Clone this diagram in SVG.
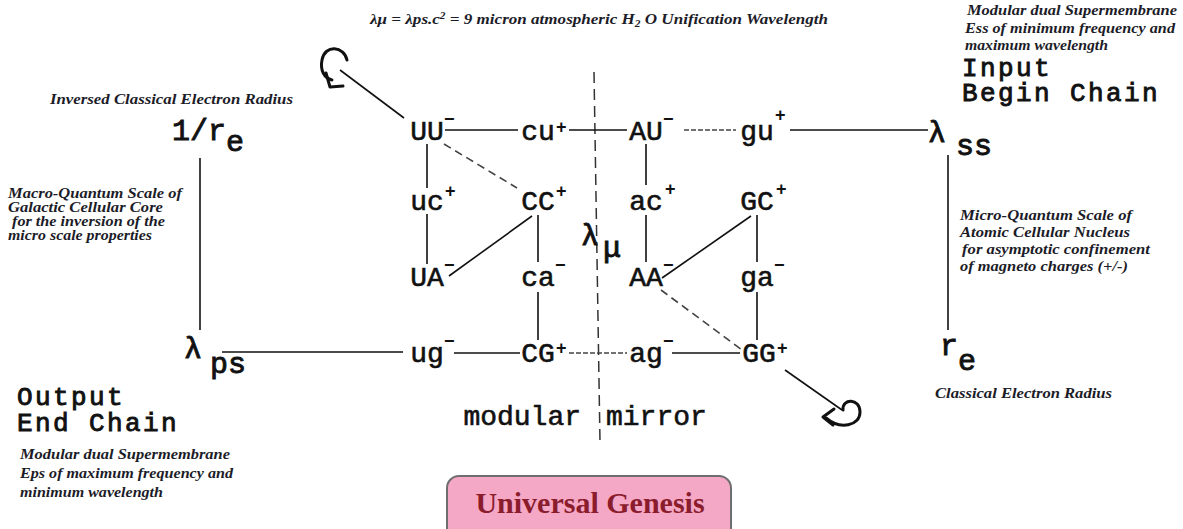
<svg xmlns="http://www.w3.org/2000/svg" width="1183" height="529" viewBox="0 0 1183 529">
<style>
.cap{font-family:"Liberation Serif",serif;font-style:italic;font-weight:bold;font-size:15px;fill:#1c1c28}
.tw{font-family:"Liberation Mono",monospace;font-size:28px;fill:#111;stroke:#111;stroke-width:0.6}
.big{font-family:"Liberation Mono",monospace;font-size:30px;fill:#111;stroke:#111;stroke-width:0.9}
.hd{font-family:"Liberation Mono",monospace;font-size:26px;letter-spacing:2.4px;fill:#111;stroke:#111;stroke-width:0.9}
.sup{font-family:"Liberation Sans",sans-serif;font-size:18px;font-weight:bold;fill:#111}
.ln{stroke:#111;stroke-width:1.6;fill:none}
.dl{stroke:#444;stroke-width:1.6;fill:none;stroke-dasharray:5 2}
.dd{stroke:#444;stroke-width:1.6;fill:none;stroke-dasharray:8 5}
.dv{stroke:#333;stroke-width:1.5;fill:none;stroke-dasharray:11 6}
.lp{stroke:#111;stroke-width:3;fill:none;stroke-linecap:round;stroke-linejoin:round}
</style>
<rect width="1183" height="529" fill="#fff"/>

<g id="connectors">
  <path class="dv" d="M594 72 L600 442"/>
  <path class="ln" d="M445 130 H518"/>
  <path class="ln" d="M569 130 H627"/>
  <path class="dl" d="M684 130 H736"/>
  <path class="ln" d="M790 130 H928"/>
  <path class="ln" d="M427 144 V188 M427 214 V264"/>
  <path class="ln" d="M538 215 V262 M538 292 V340"/>
  <path class="ln" d="M646 144 V185 M646 215 V262"/>
  <path class="ln" d="M757 215 V262 M757 292 V340"/>
  <path class="ln" d="M222 352 H403"/>
  <path class="ln" d="M454 353 H520"/>
  <path class="dl" d="M569 353 H627"/>
  <path class="ln" d="M672 353 H740"/>
  <path class="dd" d="M444 144 L517 188"/>
  <path class="ln" d="M532 216 L449 276"/>
  <path class="ln" d="M751 216 L662 278"/>
  <path class="dd" d="M661 290 L742 350"/>
  <path class="ln" d="M404 118 L340 70"/>
  <path class="ln" d="M785 370 L842 410"/>
  <path class="ln" d="M200 158 V330"/>
  <path class="ln" d="M948 155 V330"/>
  <path class="lp" d="M347 60 C344 46 325 44 322 60 C320 70 324 78 332 80"/>
  <path class="lp" d="M326 73 L330 87 L343 86"/>
  <path class="lp" d="M843 410 C842 398 860 398 860 412 C860 426 840 430 826 418"/>
  <path class="lp" d="M834 409 L823 417 L833 425"/>
</g>

<g id="caption-top">
  <text class="cap" x="370" y="24" textLength="458" lengthAdjust="spacingAndGlyphs">λμ = λps.c<tspan font-size="10" dy="-5">2</tspan><tspan dy="5"> = 9 micron atmospheric H</tspan><tspan font-size="10" dy="3">2</tspan><tspan dy="-3"> O Unification Wavelength</tspan></text>
</g>

<g id="input-begin">
  <text class="cap" x="967" y="15" textLength="210" lengthAdjust="spacingAndGlyphs">Modular dual Supermembrane</text>
  <text class="cap" x="965" y="33" textLength="210" lengthAdjust="spacingAndGlyphs">Ess of minimum frequency and</text>
  <text class="cap" x="965" y="50" textLength="143" lengthAdjust="spacingAndGlyphs">maximum wavelength</text>
  <text class="hd" x="962" y="76">Input<tspan x="962" dy="25">Begin Chain</tspan></text>
</g>

<g id="lambda-ss">
  <text class="big" x="928" y="142" font-size="34">λ</text>
  <text class="big" x="956" y="155" font-size="24">ss</text>
</g>

<g id="inv-re">
  <text class="cap" x="50" y="104" textLength="243" lengthAdjust="spacingAndGlyphs">Inversed Classical Electron Radius</text>
  <text class="big" x="172" y="140">1/r</text>
  <text class="big" x="226" y="151" font-size="22">e</text>
</g>

<g id="macro">
  <text class="cap" x="8" y="198" textLength="174" lengthAdjust="spacingAndGlyphs">Macro-Quantum Scale of</text>
  <text class="cap" x="8" y="212" textLength="155" lengthAdjust="spacingAndGlyphs">Galactic Cellular Core</text>
  <text class="cap" x="12" y="226" textLength="153" lengthAdjust="spacingAndGlyphs">for the inversion of the</text>
  <text class="cap" x="8" y="240" textLength="144" lengthAdjust="spacingAndGlyphs">micro scale properties</text>
</g>

<g id="micro">
  <text class="cap" x="960" y="220" textLength="172" lengthAdjust="spacingAndGlyphs">Micro-Quantum Scale of</text>
  <text class="cap" x="960" y="237" textLength="170" lengthAdjust="spacingAndGlyphs">Atomic Cellular Nucleus</text>
  <text class="cap" x="962" y="254" textLength="188" lengthAdjust="spacingAndGlyphs">for asymptotic confinement</text>
  <text class="cap" x="960" y="271" textLength="168" lengthAdjust="spacingAndGlyphs">of magneto charges (+/-)</text>
</g>

<g id="re">
  <text class="big" x="940" y="355">r</text>
  <text class="big" x="958" y="370" font-size="22">e</text>
  <text class="cap" x="935" y="398" textLength="177" lengthAdjust="spacingAndGlyphs">Classical Electron Radius</text>
</g>

<g id="lambda-ps">
  <text class="big" x="184" y="358" font-size="34">λ</text>
  <text class="big" x="210" y="373" font-size="24">ps</text>
</g>

<g id="output-end">
  <text class="hd" x="17" y="405">Output<tspan x="17" dy="26">End Chain</tspan></text>
  <text class="cap" x="20" y="459" textLength="210" lengthAdjust="spacingAndGlyphs">Modular dual Supermembrane</text>
  <text class="cap" x="20" y="478" textLength="213" lengthAdjust="spacingAndGlyphs">Eps of maximum frequency and</text>
  <text class="cap" x="20" y="497" textLength="143" lengthAdjust="spacingAndGlyphs">minimum wavelength</text>
</g>

<g id="n-UU"><text class="tw" x="427" y="140" text-anchor="middle">UU</text><text class="sup" x="444" y="125">−</text></g>
<g id="n-cu"><text class="tw" x="538" y="140" text-anchor="middle">cu</text><text class="sup" x="556" y="133">+</text></g>
<g id="n-AU"><text class="tw" x="646" y="140" text-anchor="middle">AU</text><text class="sup" x="663" y="125">−</text></g>
<g id="n-gu"><text class="tw" x="757" y="140" text-anchor="middle">gu</text><text class="sup" x="775" y="121">+</text></g>

<g id="n-uc"><text class="tw" x="427" y="210" text-anchor="middle">uc</text><text class="sup" x="445" y="197">+</text></g>
<g id="n-CC"><text class="tw" x="538" y="210" text-anchor="middle">CC</text><text class="sup" x="556" y="197">+</text></g>
<g id="n-ac"><text class="tw" x="646" y="210" text-anchor="middle">ac</text><text class="sup" x="665" y="195">+</text></g>
<g id="n-GC"><text class="tw" x="757" y="210" text-anchor="middle">GC</text><text class="sup" x="776" y="195">+</text></g>

<g id="n-lmu">
  <text class="big" x="581" y="245" font-size="30">λ</text>
  <text class="big" x="603" y="257" font-size="20">μ</text>
</g>

<g id="n-UA"><text class="tw" x="427" y="286" text-anchor="middle">UA</text><text class="sup" x="444" y="271">−</text></g>
<g id="n-ca"><text class="tw" x="538" y="286" text-anchor="middle">ca</text><text class="sup" x="555" y="271">−</text></g>
<g id="n-AA"><text class="tw" x="646" y="286" text-anchor="middle">AA</text><text class="sup" x="663" y="271">−</text></g>
<g id="n-ga"><text class="tw" x="757" y="286" text-anchor="middle">ga</text><text class="sup" x="774" y="271">−</text></g>

<g id="n-ug"><text class="tw" x="427" y="362" text-anchor="middle">ug</text><text class="sup" x="444" y="347">−</text></g>
<g id="n-CG"><text class="tw" x="538" y="362" text-anchor="middle">CG</text><text class="sup" x="556" y="354">+</text></g>
<g id="n-ag"><text class="tw" x="646" y="362" text-anchor="middle">ag</text><text class="sup" x="663" y="347">−</text></g>
<g id="n-GG"><text class="tw" x="759" y="362" text-anchor="middle">GG</text><text class="sup" x="777" y="354">+</text></g>

<g id="modular-mirror">
  <text class="tw" x="581" y="425" text-anchor="end">modular</text>
  <text class="tw" x="606" y="425">mirror</text>
</g>

<g id="universal-genesis">
  <rect x="447" y="476" width="284" height="64" rx="12" fill="#f4a8c6" stroke="#6e6e6e" stroke-width="2"/>
  <text x="590" y="513" text-anchor="middle" font-family="Liberation Serif,serif" font-weight="bold" font-size="30" fill="#8b1c2c">Universal Genesis</text>
</g>
</svg>
